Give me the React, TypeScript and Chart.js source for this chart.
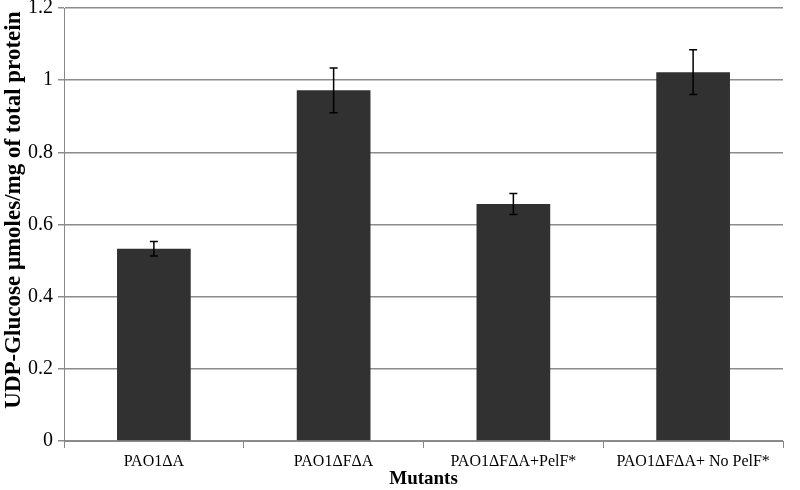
import React, { useEffect, useRef } from "react";
import { Chart, registerables } from "chart.js";

Chart.register(...registerables);

const categories = ["PAO1ΔA", "PAO1ΔFΔA", "PAO1ΔFΔA+PelF*", "PAO1ΔFΔA+ No PelF*"];
const values = [0.533, 0.972, 0.657, 1.022];
const errors = [0.02, 0.062, 0.029, 0.062];
const yTicks = [0, 0.2, 0.4, 0.6, 0.8, 1, 1.2];

const SERIF = "'Liberation Serif', 'Times New Roman', serif";

const errorBarPlugin = {
  id: "errorBars",
  afterDatasetsDraw(chart: any) {
    const ctx = chart.ctx;
    const meta = chart.getDatasetMeta(0);
    const y = chart.scales.y;
    ctx.save();
    ctx.strokeStyle = "#000";
    ctx.lineWidth = 1.5;
    meta.data.forEach((bar: any, i: number) => {
      const x = bar.x;
      const top = y.getPixelForValue(values[i] + errors[i]);
      const bot = y.getPixelForValue(values[i] - errors[i]);
      ctx.beginPath();
      ctx.moveTo(x, top);
      ctx.lineTo(x, bot);
      ctx.moveTo(x - 4, top);
      ctx.lineTo(x + 4, top);
      ctx.moveTo(x - 4, bot);
      ctx.lineTo(x + 4, bot);
      ctx.stroke();
    });
    ctx.restore();
  },
};

export default function App() {
  const ref = useRef<HTMLCanvasElement>(null);
  useEffect(() => {
    document.body.style.margin = "0";
    const chart = new Chart(ref.current!, {
      type: "bar",
      data: {
        labels: categories,
        datasets: [
          {
            data: values,
            backgroundColor: "#313131",
            borderWidth: 0,
            barPercentage: 0.41,
            categoryPercentage: 1,
          },
        ],
      },
      options: {
        animation: false,
        responsive: false,
        maintainAspectRatio: false,
        layout: { padding: { top: 8, right: 17, left: 0, bottom: 0 } },
        plugins: { legend: { display: false }, tooltip: { enabled: false } },
        scales: {
          x: {
            offset: true,
            grid: {
              offset: true,
              drawOnChartArea: false,
              drawTicks: true,
              tickLength: 7,
              color: "#888",
              lineWidth: 1,
            },
            border: { color: "#888", width: 1 },
            ticks: {
              color: "#000",
              font: { family: SERIF, size: 16 },
              padding: 4,
              maxRotation: 0,
              autoSkip: false,
            },
            title: {
              display: true,
              text: "Mutants",
              color: "#000",
              font: { family: SERIF, size: 19, weight: "bold" },
              padding: { top: 0, bottom: 0 },
            },
            afterFit(scale: any) {
              scale.height = 49;
              scale.paddingLeft = 0;
              scale.paddingRight = 0;
            },
          },
          y: {
            min: 0,
            max: 1.2,
            afterBuildTicks(scale: any) {
              scale.ticks = yTicks.map((v) => ({ value: v }));
            },
            grid: {
              color: "#8c8c8c",
              lineWidth: 1.5,
              tickLength: 6,
            },
            border: { color: "#888", width: 1 },
            ticks: {
              color: "#000",
              font: { family: SERIF, size: 20 },
              padding: 5,
              callback: (v: any) => String(Number(v)),
            },
            title: {
              display: true,
              text: "     UDP-Glucose μmoles/mg of total protein",
              color: "#000",
              font: { family: SERIF, size: 23, weight: "bold" },
              padding: { top: 0, bottom: 0 },
            },
            afterFit(scale: any) {
              scale.width = 64;
              scale.paddingTop = 0;
              scale.paddingBottom = 0;
            },
          },
        },
      },
      plugins: [errorBarPlugin],
    });
    return () => chart.destroy();
  }, []);
  return (
    <div style={{ width: 800, height: 490 }}>
      <canvas ref={ref} width={800} height={490} style={{ display: "block" }} />
    </div>
  );
}
